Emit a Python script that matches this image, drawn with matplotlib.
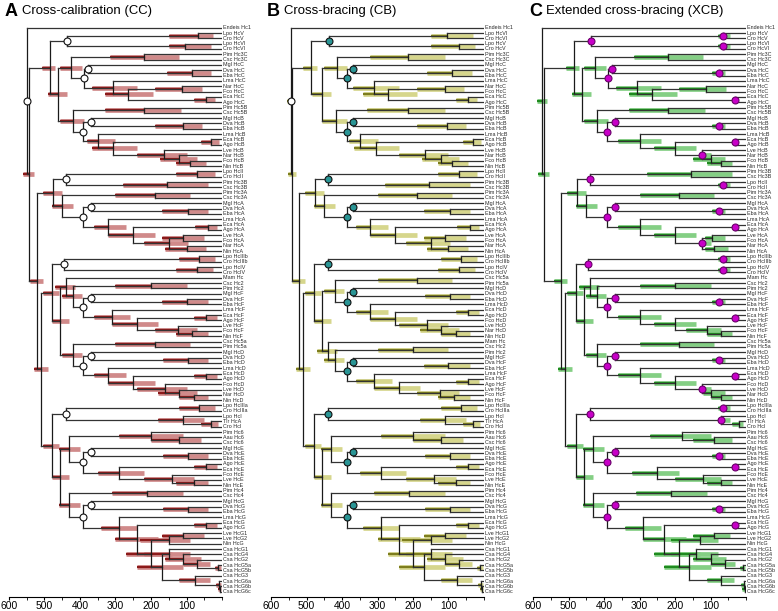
import matplotlib.pyplot as plt
from matplotlib import font_manager
from matplotlib.ticker import MultipleLocator

# the figure text is set in a narrow sans; fall back to the regular cut if it is missing
names = {f.name for f in font_manager.fontManager.ttflist}
if 'Liberation Sans Narrow' in names:
    plt.rcParams['font.family'] = ['Liberation Sans Narrow', 'DejaVu Sans']
    scale = 1.0
else:
    plt.rcParams['font.family'] = ['Liberation Sans', 'DejaVu Sans']
    scale = 0.82

# trees: internal nodes carry "age/lo/hi" in Ma, "*" marks a calibrated node
tree_cc = """(Endeis Hc1,
 ((((Lpo HcV,Cro HcV)68/150/25,(Lpo HcVI,Cro HcVI)105/150/30)438/442/432*,
   (((Pim Hc3C,Csc Hc3C)219/316/120,
     ((Mgl HcC,(Dva HcC,Eba HcC)84/155/32)378/382/374*,
      (Lma HcC,((Nar HcC,Fco HcC)112/190/56,(Eca HcC,Ago HcC)45/80/20)266/330/195)308/365/240)390/394/386*)424/457/395,
    ((Pim Hc5B,Csc Hc5B)219/330/115,
     ((Mgl HcB,(Dva HcB,Eba HcB)110/190/55)370/374/366*,
      (Lma HcB,((Eca HcB,Ago HcB)30/60/8,(Lve HcB,(Nar HcB,(Fco HcB,Nin HcB)90/130/45)120/175/70)162/240/100)308/365/240)350/380/300)392/396/388*)420/455/390)461/490/437)485/507/470,
  ((((Lpo HcII,Cro HcII)70/130/20,(Pim Hc3B,Csc Hc3B)155/280/40)440/444/436*,
    ((Pim Hc3A,Csc Hc3A)190/300/90,
     ((Mgl HcA,(Dva HcA,Eba HcA)95/170/40)370/374/366*,
      (Lma HcA,((Eca HcA,Ago HcA)40/75/15,((Lve HcA,Fco HcA)110/170/50,(Nar HcA,Nin HcA)100/160/45)150/220/95)250/320/190)320/360/270)392/396/388*)450/480/420)475/505/450,
   ((((Lpo HcIIIb,Cro HcIIIb)65/120/20,(Lpo HcIV,Cro HcIV)70/130/25)445/449/441*,
     ((Mam Hc,((Csc Hc2,Pim Hc2)200/300/100,
       ((Mgl HcF,(Dva HcF,Eba HcF)100/170/40)370/374/366*,
        (Lma HcF,((Eca HcF,Ago HcF)45/80/15,(Lve HcF,(Fco HcF,Nin HcF)85/130/40)125/190/70)240/310/180)310/360/260)392/396/388*)420/450/395)440/470/415,
      ((Csc Hc5a,Pim Hc5a)190/300/90,
       ((Mgl HcD,(Dva HcD,Eba HcD)95/165/40)370/374/366*,
        (Lma HcD,((Eca HcD,Ago HcD)45/80/15,(Fco HcD,(Lve HcD,(Nar HcD,Nin HcD)80/120/40)120/180/70)160/240/100)250/320/190)320/360/270)392/396/388*)420/450/395)455/480/430)480/505/460,
    (((Lpo HcIIIa,Cro HcIIIa)65/120/20,(Lpo HcI,(Tlr HcA,Cro HcI)30/60/10)110/180/50)440/444/436*,
     (((Pim Hc6,(Aau Hc6,Csc Hc6)120/200/60)200/290/110,
       ((Mgl HcE,(Dva HcE,Eba HcE)95/165/40)370/374/366*,
        ((Ago HcE,Eca HcE)45/80/15,(Fco HcE,(Lve HcE,Nin HcE)80/130/40)140/220/80)290/350/220)392/396/388*)430/460/400,
      ((Pim Hc4,Csc Hc4)210/310/110,
       ((Mgl HcG,(Dva HcG,Eba HcG)95/165/40)370/374/366*,
        (Lma HcG,((Eca HcG,Ago HcG)45/80/15,(((Lve HcG1,Lve HcG2)110/170/50,Nin HcG)150/230/90,
         ((Csa HcG1,(Csa HcG4,(Csa HcG2,(Csa HcG5a,Csa HcG5b)10/20/3)70/110/35)110/160/60)150/220/90,
          (Csa HcG3,(Csa HcG6a,(Csa HcG6b,Csa HcG6c)5/12/2)8/16/3)75/120/35)170/240/110)200/270/140)240/300/180)290/340/240)392/396/388*)430/460/400)455/480/430)480/505/460)510/530/490)520/540/505)545/560/530)549/556/540*"""

tree_cb = """(Endeis Hc1,
 ((((Lpo HcVI,Cro HcVI)105/150/30,(Lpo HcV,Cro HcV)70/150/25)437/441/433*,
   (((Pim Hc3C,Csc Hc3C)215/320/110,
     ((Mgl HcC,(Dva HcC,Eba HcC)90/160/35)370/374/366*,
      (Lma HcC,((Nar HcC,Fco HcC)110/190/55,(Eca HcC,Ago HcC)45/80/20)270/340/190)310/370/240)386/390/382*)415/450/385,
    ((Pim Hc5B,Csc Hc5B)215/330/110,
     ((Mgl HcB,(Dva HcB,Eba HcB)105/190/50)370/374/366*,
      (Lma HcB,((Eca HcB,Ago HcB)30/60/8,(Lve HcB,(Nar HcB,(Fco HcB,Nin HcB)90/130/45)120/175/70)165/240/100)305/365/240)350/380/300)386/390/382*)417/455/385)457/485/430)488/510/470,
  ((((Lpo HcII,Cro HcII)70/130/20,(Pim Hc3B,Csc Hc3B)155/280/40)440/444/436*,
    ((Pim Hc3A,Csc Hc3A)190/300/90,
     ((Mgl HcA,(Dva HcA,Eba HcA)95/170/40)370/374/366*,
      (Lma HcA,((Eca HcA,Ago HcA)40/75/15,((Lve HcA,Fco HcA)110/170/50,(Nar HcA,Nin HcA)100/160/45)150/220/95)250/320/190)320/360/270)386/390/382*)450/480/420)475/505/450,
   ((((Lpo HcIIIb,Cro HcIIIb)65/120/20,(Lpo HcIV,Cro HcIV)70/130/25)440/444/436*,
     (((Csc Hc5a,Pim Hc5a)190/300/90,
       ((Mgl HcD,(Dva HcD,Eba HcD)95/165/40)370/374/366*,
        (Lma HcD,((Eca HcD,Ago HcD)45/80/15,(Fco HcD,(Lve HcD,(Nar HcD,Nin HcD)80/120/40)120/180/70)160/240/100)250/320/190)320/360/270)386/390/382*)420/450/395,
      (Mam Hc,((Csc Hc2,Pim Hc2)200/300/100,
       ((Mgl HcF,(Dva HcF,Eba HcF)100/170/40)370/374/366*,
        (Lma HcF,((Eca HcF,Ago HcF)45/80/15,(Lve HcF,(Fco HcF,Nin HcF)85/130/40)125/190/70)240/310/180)310/360/260)386/390/382*)420/450/395)440/470/415)455/480/430)480/505/460,
    (((Lpo HcIIIa,Cro HcIIIa)65/120/20,(Lpo HcI,(Tlr HcA,Cro HcI)30/60/10)110/180/50)440/444/436*,
     (((Pim Hc6,(Aau Hc6,Csc Hc6)120/200/60)200/290/110,
       ((Mgl HcE,(Dva HcE,Eba HcE)95/165/40)370/374/366*,
        ((Ago HcE,Eca HcE)45/80/15,(Fco HcE,(Lve HcE,Nin HcE)80/130/40)140/220/80)290/350/220)386/390/382*)430/460/400,
      ((Pim Hc4,Csc Hc4)210/310/110,
       ((Mgl HcG,(Dva HcG,Eba HcG)95/165/40)370/374/366*,
        (Lma HcG,((Eca HcG,Ago HcG)45/80/15,(((Lve HcG1,Lve HcG2)110/170/50,Nin HcG)150/230/90,
         ((Csa HcG1,(Csa HcG4,(Csa HcG2,(Csa HcG5a,Csa HcG5b)10/20/3)70/110/35)110/160/60)150/220/90,
          (Csa HcG3,(Csa HcG6a,(Csa HcG6b,Csa HcG6c)5/12/2)8/16/3)75/120/35)170/240/110)200/270/140)240/300/180)290/340/240)386/390/382*)430/460/400)455/480/430)480/505/460)510/530/490)520/540/505)541/552/530)544/556/535*"""

tree_xcb = """(Endeis Hc1,
 ((((Lpo HcV,Cro HcV)65/80/45*,(Lpo HcVI,Cro HcVI)65/80/45*)438/442/432*,
   (((Pim Hc3C,Csc Hc3C)219/316/120,
     ((Mgl HcC,(Dva HcC,Eba HcC)77/95/60*)378/382/374*,
      (Lma HcC,((Nar HcC,Fco HcC)112/190/56,(Eca HcC,Ago HcC)32/40/25*)266/330/195)308/365/240)390/394/386*)424/457/395,
    ((Pim Hc5B,Csc Hc5B)219/330/115,
     ((Mgl HcB,(Dva HcB,Eba HcB)77/95/60*)370/374/366*,
      (Lma HcB,((Eca HcB,Ago HcB)32/40/25*,(Lve HcB,(Nar HcB,(Fco HcB,Nin HcB)70/110/40)100/150/60)124/130/100*)200/260/140)300/360/240)392/396/388*)420/455/390)461/490/437)485/507/470,
  ((((Pim Hc3B,Csc Hc3B)155/280/40,(Lpo HcII,Cro HcII)65/80/45*)440/444/436*,
    ((Pim Hc3A,Csc Hc3A)190/300/90,
     ((Mgl HcA,(Dva HcA,Eba HcA)77/95/60*)370/374/366*,
      (Lma HcA,((Eca HcA,Ago HcA)32/40/25*,((Lve HcA,Fco HcA)95/115/60,(Nar HcA,Nin HcA)90/115/50)124/130/100*)200/260/140)300/360/240)392/396/388*)450/480/420)475/505/450,
   ((((Lpo HcIIIb,Cro HcIIIb)65/80/45*,(Lpo HcIV,Cro HcIV)65/80/45*)445/449/441*,
     ((Mam Hc,((Csc Hc2,Pim Hc2)200/300/100,
       ((Mgl HcF,(Dva HcF,Eba HcF)77/95/60*)370/374/366*,
        (Lma HcF,((Eca HcF,Ago HcF)32/40/25*,(Lve HcF,(Fco HcF,Nin HcF)70/110/40)110/170/70)200/260/140)300/360/240)392/396/388*)420/450/395)440/470/415,
      ((Csc Hc5a,Pim Hc5a)190/300/90,
       ((Mgl HcD,(Dva HcD,Eba HcD)77/95/60*)370/374/366*,
        (Lma HcD,((Eca HcD,Ago HcD)32/40/25*,(Fco HcD,(Lve HcD,(Nar HcD,Nin HcD)70/100/40)100/120/60)124/130/100*)200/260/140)300/360/240)392/396/388*)420/450/395)455/480/430)480/505/460,
    (((Lpo HcIIIa,Cro HcIIIa)65/80/45*,(Lpo HcI,(Tlr HcA,Cro HcI)20/40/8)70/80/45*)440/444/436*,
     (((Pim Hc6,(Aau Hc6,Csc Hc6)90/150/40)180/270/100,
       ((Mgl HcE,(Dva HcE,Eba HcE)77/95/60*)370/374/366*,
        ((Ago HcE,Eca HcE)32/40/25*,(Fco HcE,(Lve HcE,Nin HcE)70/110/40)120/200/70)250/320/190)392/396/388*)430/460/400,
      ((Pim Hc4,Csc Hc4)210/310/110,
       ((Mgl HcG,(Dva HcG,Eba HcG)77/95/60*)370/374/366*,
        (Lma HcG,((Eca HcG,Ago HcG)32/40/25*,(((Lve HcG1,Lve HcG2)90/150/45,Nin HcG)130/210/80,
         ((Csa HcG1,(Csa HcG4,(Csa HcG2,(Csa HcG5a,Csa HcG5b)8/16/3)60/100/30)100/150/55)140/210/80,
          (Csa HcG3,(Csa HcG6a,(Csa HcG6b,Csa HcG6c)4/10/2)7/14/3)70/110/35)160/230/100)190/260/130)230/290/170)290/340/240)392/396/388*)430/460/400)455/480/430)480/505/460)510/530/490)520/540/505)570/585/555)575/590/560"""

panels = ["A", "B", "C"]
titles = ["Cross-calibration (CC)", "Cross-bracing (CB)", "Extended cross-bracing (XCB)"]
trees = [tree_cc, tree_cb, tree_xcb]
dark_cols = ["#8b1a1a", "#7d7d1e", "#1f8a1f"]
light_cols = ["#d08a8a", "#d6d68c", "#84cf84"]
mark_cols = ["white", "#2a9595", "#c800c8"]
mark_edges = ["#111111", "#111111", "#6a006a"]


def parse(s):
    s = " ".join(s.split())
    pos = 0

    def node():
        nonlocal pos
        while s[pos] == " ":
            pos += 1
        if s[pos] == "(":
            pos += 1
            kids = [node()]
            while s[pos] == ",":
                pos += 1
                kids.append(node())
            pos += 1
            j = pos
            while pos < len(s) and s[pos] not in ",()":
                pos += 1
            lab = s[j:pos].strip()
            v = [float(t) for t in lab.rstrip("*").split("/")]
            return {"kids": kids, "age": v[0], "lo": v[1], "hi": v[2], "cal": lab.endswith("*")}
        j = pos
        while s[pos] not in ",()":
            pos += 1
        return {"name": s[j:pos].strip(), "age": 0.0}

    return node()


def layout(n, leaves):
    if "kids" not in n:
        n["y"] = len(leaves)
        leaves.append(n)
        return
    for k in n["kids"]:
        layout(k, leaves)
    n["y"] = (n["kids"][0]["y"] + n["kids"][-1]["y"]) / 2


def draw(ax, n, i, root=False):
    if "kids" not in n:
        ax.text(-4, n["y"], n["name"], fontsize=4.7 * scale, va="center", ha="left",
                clip_on=False, color="#2a2a2a")
        return
    ys = [k["y"] for k in n["kids"]]
    ax.plot([n["age"], n["age"]], [min(ys), max(ys)], color="#1a1a1a", lw=0.9, zorder=2)
    for k in n["kids"]:
        ax.plot([n["age"], k["age"]], [k["y"], k["y"]], color="#333333", lw=0.9, zorder=2)
        draw(ax, k, i)
    ax.plot([n["lo"], n["hi"]], [n["y"], n["y"]], color=light_cols[i], lw=3.4,
            solid_capstyle="butt", zorder=1)
    ax.plot([n["lo"], n["age"]], [n["y"], n["y"]], color=dark_cols[i], lw=1.6,
            solid_capstyle="butt", zorder=1.5)
    if n["cal"]:
        fc = "white" if root else mark_cols[i]
        ec = "#111111" if root else mark_edges[i]
        ax.plot(n["age"], n["y"], "o", ms=5, mfc=fc, mec=ec, mew=0.8, zorder=3)


fig = plt.figure(figsize=(7.78, 6.11), dpi=100)
W, H = 778, 611
lefts = [9, 271, 533]
for i in range(3):
    ax = fig.add_axes([lefts[i] / W, (H - 597) / H, 213 / W, 577 / H])
    root = parse(trees[i])
    leaves = []
    layout(root, leaves)
    draw(ax, root, i, root=True)
    ax.set_xlim(600, 0)
    ax.set_ylim(107.0, -1.45)
    for sp in ["top", "left", "right"]:
        ax.spines[sp].set_visible(False)
    ax.spines["bottom"].set_bounds(600, 0)
    ax.set_yticks([])
    ax.xaxis.set_minor_locator(MultipleLocator(50))
    ax.set_xticks([600, 500, 400, 300, 200, 100])
    ax.tick_params(axis="x", labelsize=9 * scale, length=2.5, width=0.8, pad=0.5)
    ax.tick_params(axis="x", which="minor", length=1.8, width=0.6)
    fig.text((lefts[i] - 4) / W, 1 - 11 / H, panels[i], fontsize=13, fontweight="bold",
             va="center", family=["Liberation Sans", "DejaVu Sans"])
    fig.text((lefts[i] + 13) / W, 1 - 11 / H, titles[i], fontsize=11.5 * scale, va="center")

fig.savefig("out.png", dpi=100)
